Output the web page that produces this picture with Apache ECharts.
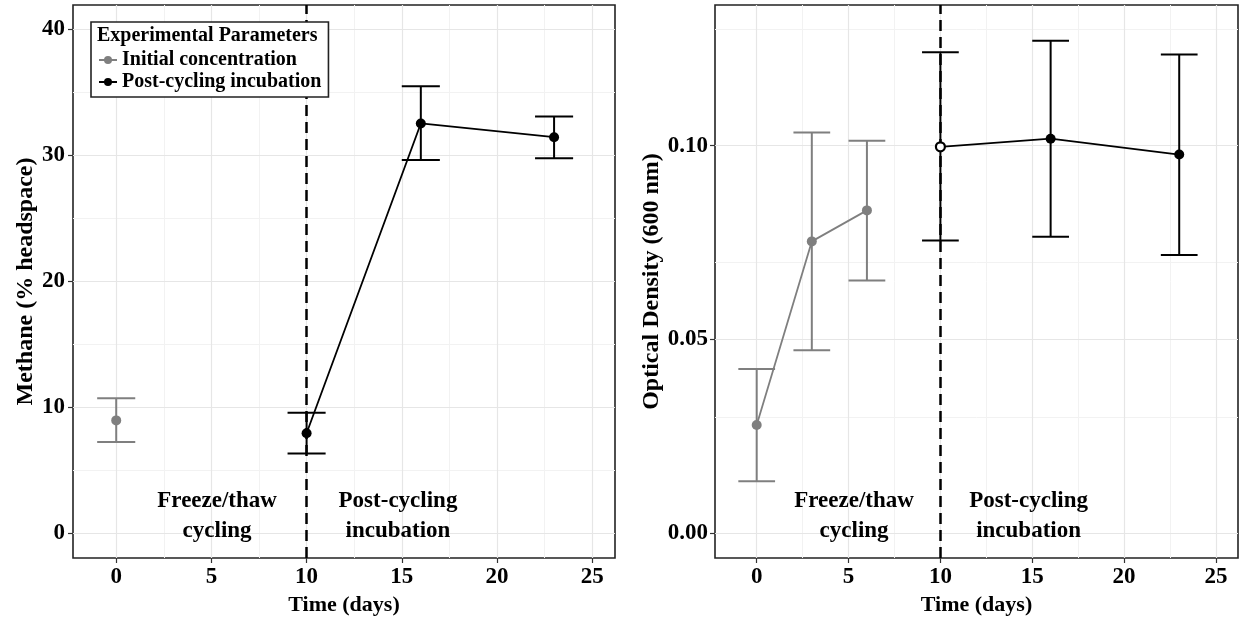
<!DOCTYPE html>
<html>
<head>
<meta charset="utf-8">
<script src="https://cdn.jsdelivr.net/npm/echarts@6/dist/echarts.min.js"></script>
<style>
html,body{margin:0;padding:0;background:#fff;}
#chart{width:1241px;height:621px;}
</style>
</head>
<body>
<div id="chart"></div>
<script>
// ---- Data ----
const seriesNames = ['Initial concentration', 'Post-cycling incubation'];

// Methane panel
const ch4InitDays = [0];
const ch4InitMean = [8.94];
const ch4InitLow  = [7.23];
const ch4InitHigh = [10.69];

const ch4PostDays = [10, 16, 23];
const ch4PostMean = [7.92, 32.5, 31.41];
const ch4PostLow  = [6.31, 29.6, 29.73];
const ch4PostHigh = [9.55, 35.45, 33.06];

// Optical density panel
const odInitDays = [0, 3, 6];
const odInitMean = [0.0279, 0.0753, 0.0833];
const odInitLow  = [0.0134, 0.0472, 0.0652];
const odInitHigh = [0.0424, 0.1034, 0.1013];

const odPostDays = [10, 16, 23];
const odPostMean = [0.0997, 0.1018, 0.0977];
const odPostLow  = [0.0755, 0.0765, 0.0718];
const odPostHigh = [0.1241, 0.1271, 0.1235];

// Ticks
const xTicks = [0, 5, 10, 15, 20, 25];
const xMinor = [2.5, 7.5, 12.5, 17.5, 22.5];
const ch4Ticks = [0, 10, 20, 30, 40];
const ch4Minor = [5, 15, 25, 35];
const odTicks = [0, 0.05, 0.10];
const odMinor = [0.025, 0.075, 0.125];

// Annotations
const phaseLabels = ['Freeze/thaw\ncycling', 'Post-cycling\nincubation'];
const phaseX = [5.3, 14.8];
const ch4PhaseY = 1.36;
const odPhaseY = 0.0043;
const cycleEndDay = 10;

// ---- Styling ----
const FONT = '"Liberation Serif", "Times New Roman", serif';
const GREY = '#7f7f7f';
const BLACK = '#000000';
const GRIDMAJ = '#e6e6e6';
const GRIDMIN = '#f2f2f2';
const CAP = 1;

const chart = echarts.init(document.getElementById('chart'), null, {renderer: 'canvas'});

function zipPts(days, vals) { return days.map((d, i) => [d, vals[i]]); }
function zipErr(days, lo, hi) { return days.map((d, i) => [d, lo[i], hi[i]]); }

function errSeries(name, days, lo, hi, color, xi) {
  return {
    type: 'custom', name: name, xAxisIndex: xi, yAxisIndex: xi, z: 3,
    silent: true, animation: false,
    encode: {x: 0, y: [1, 2]},
    data: zipErr(days, lo, hi),
    renderItem: function (params, api) {
      const x = api.value(0), lo = api.value(1), hi = api.value(2);
      const t = api.coord([x, hi]), b = api.coord([x, lo]);
      const tl = api.coord([x - CAP, hi]), tr = api.coord([x + CAP, hi]);
      const bl = api.coord([x - CAP, lo]), br = api.coord([x + CAP, lo]);
      const st = {stroke: color, lineWidth: 2};
      return {type: 'group', children: [
        {type: 'line', shape: {x1: t[0], y1: t[1], x2: b[0], y2: b[1]}, style: st},
        {type: 'line', shape: {x1: tl[0], y1: tl[1], x2: tr[0], y2: tr[1]}, style: st},
        {type: 'line', shape: {x1: bl[0], y1: bl[1], x2: br[0], y2: br[1]}, style: st}
      ]};
    }
  };
}

function gridSeries(xi, yMaj, yMin) {
  const d = [];
  xMinor.forEach(v => d.push({xAxis: v, lineStyle: {color: GRIDMIN, width: 1, type: 'solid'}}));
  yMin.forEach(v => d.push({yAxis: v, lineStyle: {color: GRIDMIN, width: 1, type: 'solid'}}));
  xTicks.forEach(v => d.push({xAxis: v, lineStyle: {color: GRIDMAJ, width: 1.2, type: 'solid'}}));
  yMaj.forEach(v => d.push({yAxis: v, lineStyle: {color: GRIDMAJ, width: 1.2, type: 'solid'}}));
  return {
    type: 'line', name: '_grid' + xi, xAxisIndex: xi, yAxisIndex: xi, data: [], z: 0,
    silent: true, animation: false,
    markLine: {silent: true, symbol: ['none', 'none'], label: {show: false}, animation: false,
      emphasis: {disabled: true}, z: 0, data: d}
  };
}

function lineSeries(name, days, vals, color, xi, extra) {
  const s = {
    type: 'line', name: name, xAxisIndex: xi, yAxisIndex: xi, z: 5,
    data: zipPts(days, vals), symbol: 'circle', symbolSize: 10, showSymbol: true,
    lineStyle: {color: color, width: 1.8}, itemStyle: {color: color},
    animation: false, silent: true
  };
  return Object.assign(s, extra || {});
}

function dashedSeries(xi) {
  return {
    type: 'line', name: '_dash' + xi, xAxisIndex: xi, yAxisIndex: xi, data: [], z: 2,
    silent: true, animation: false,
    markLine: {silent: true, symbol: ['none', 'none'], label: {show: false}, animation: false,
      emphasis: {disabled: true},
      lineStyle: {color: BLACK, width: 2.5, type: [11, 6]},
      data: [{xAxis: cycleEndDay}]}
  };
}

function textSeries(xi, yv) {
  return {
    type: 'scatter', name: '_txt' + xi, xAxisIndex: xi, yAxisIndex: xi, z: 6,
    silent: true, animation: false, symbolSize: 0,
    itemStyle: {opacity: 1},
    data: phaseX.map((x, i) => ({value: [x, yv], label: {formatter: phaseLabels[i]}})),
    label: {show: true, position: 'inside', color: BLACK, opacity: 1, fontFamily: FONT, fontWeight: 'bold',
      fontSize: 23, lineHeight: 30, align: 'center', verticalAlign: 'middle'}
  };
}

const labelStyle = {color: BLACK, fontFamily: FONT, fontWeight: 'bold', fontSize: 23};
const xNameStyle = {color: BLACK, fontFamily: FONT, fontWeight: 'bold', fontSize: 22};
const yNameStyle = {color: BLACK, fontFamily: FONT, fontWeight: 'bold', fontSize: 24};

function xAxisDef(gi) {
  return {
    type: 'value', gridIndex: gi, min: -2.27, max: 26.2,
    name: 'Time (days)', nameLocation: 'middle', nameGap: 36, nameTextStyle: xNameStyle,
    axisLine: {show: false, onZero: false},
    axisTick: {show: true, length: 5, customValues: xTicks, lineStyle: {color: '#333', width: 1.2}},
    axisLabel: Object.assign({customValues: xTicks, margin: 8}, labelStyle),
    splitLine: {show: false}
  };
}

const option = {
  backgroundColor: '#ffffff',
  animation: false,
  grid: [
    {left: 73, top: 5, width: 542, height: 554, show: true, borderColor: '#222', borderWidth: 1.6, backgroundColor: '#fff', containLabel: false},
    {left: 715, top: 5, width: 523, height: 554, show: true, borderColor: '#222', borderWidth: 1.6, backgroundColor: '#fff', containLabel: false}
  ],
  xAxis: [xAxisDef(0), xAxisDef(1)],
  yAxis: [
    {
      type: 'value', gridIndex: 0, min: -1.98, max: 41.9,
      name: 'Methane (% headspace)', nameLocation: 'middle', nameGap: 31, nameTextStyle: yNameStyle,
      axisLine: {show: false, onZero: false},
      axisTick: {show: true, length: 5, customValues: ch4Ticks, lineStyle: {color: '#333', width: 1.2}},
      axisLabel: Object.assign({customValues: ch4Ticks, margin: 8}, labelStyle),
      splitLine: {show: false}
    },
    {
      type: 'value', gridIndex: 1, min: -0.0064, max: 0.1363,
      name: 'Optical Density (600 nm)', nameLocation: 'middle', nameGap: 44, nameTextStyle: yNameStyle,
      axisLine: {show: false, onZero: false},
      axisTick: {show: true, length: 5, customValues: odTicks, lineStyle: {color: '#333', width: 1.2}},
      axisLabel: Object.assign({customValues: odTicks, margin: 7, formatter: v => v.toFixed(2)}, labelStyle),
      splitLine: {show: false}
    }
  ],
  title: {
    text: 'Experimental Parameters', left: 97, top: 26, padding: 0, z: 20,
    textStyle: {color: BLACK, fontFamily: FONT, fontWeight: 'bold', fontSize: 20}
  },
  legend: {
    data: seriesNames, orient: 'vertical', left: 91, top: 22,
    borderColor: '#222', borderWidth: 1.6, backgroundColor: '#fff',
    padding: [28, 7, 5, 7], itemGap: 2, itemWidth: 18, itemHeight: 10,
    textStyle: {color: BLACK, fontFamily: FONT, fontWeight: 'bold', fontSize: 20},
    selectedMode: false, z: 10
  },
  series: [
    gridSeries(0, ch4Ticks, ch4Minor),
    gridSeries(1, odTicks, odMinor),
    dashedSeries(0),
    dashedSeries(1),
    errSeries('_e1', ch4InitDays, ch4InitLow, ch4InitHigh, GREY, 0),
    errSeries('_e2', ch4PostDays, ch4PostLow, ch4PostHigh, BLACK, 0),
    errSeries('_e3', odInitDays, odInitLow, odInitHigh, GREY, 1),
    errSeries('_e4', odPostDays, odPostLow, odPostHigh, BLACK, 1),
    lineSeries(seriesNames[0], ch4InitDays, ch4InitMean, GREY, 0),
    lineSeries(seriesNames[1], ch4PostDays, ch4PostMean, BLACK, 0),
    lineSeries(seriesNames[0], odInitDays, odInitMean, GREY, 1),
    lineSeries(seriesNames[1], odPostDays, odPostMean, BLACK, 1, {
      data: odPostDays.map((d, i) => i === 0
        ? {value: [d, odPostMean[i]], symbolSize: 9, itemStyle: {color: '#ffffff', borderColor: BLACK, borderWidth: 2.2}}
        : [d, odPostMean[i]])
    }),
    textSeries(0, ch4PhaseY),
    textSeries(1, odPhaseY)
  ]
};
chart.setOption(option);
</script>
</body>
</html>
